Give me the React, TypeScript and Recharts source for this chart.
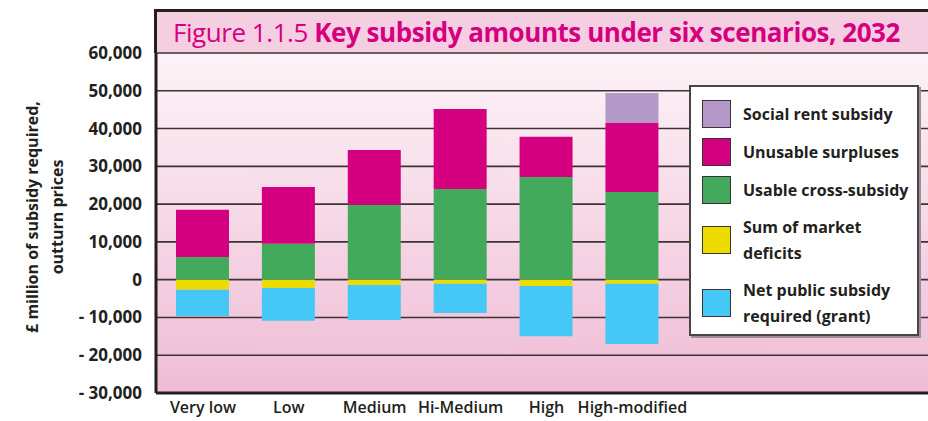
import { BarChart, Bar, XAxis, YAxis, CartesianGrid, Legend } from "recharts";

// scenarios, plus three empty slots on the right where the key sits
const scenarios = ["Very low", "Low", "Medium", "Hi-Medium", "High", "High-modified"];
const spacers = [" ", "  ", "   "];

// £ million, outturn prices
const marketDeficits = [-2700, -2200, -1400, -1100, -1700, -1100];
const publicGrant = [-6900, -8700, -9300, -7700, -13300, -15900];
const usableCross = [6000, 9500, 19800, 24000, 27200, 23200];
const unusableSurplus = [12500, 15000, 14500, 21200, 10600, 18300];
const socialRent = [0, 0, 0, 0, 0, 7900];

const yTicks = [-30000, -20000, -10000, 0, 10000, 20000, 30000, 40000, 50000, 60000];

const series = [
  { key: "usable", name: "Usable cross-subsidy", color: "#43a95d", values: usableCross },
  { key: "unusable", name: "Unusable surpluses", color: "#d5007f", values: unusableSurplus },
  { key: "social", name: "Social rent subsidy", color: "#b398c8", values: socialRent },
  { key: "deficit", name: "Sum of market deficits", color: "#ecdc00", values: marketDeficits },
  { key: "grant", name: "Net public subsidy required (grant)", color: "#45c8f5", values: publicGrant },
];

const legendOrder = ["social", "unusable", "usable", "deficit", "grant"];
const legendLines: Record<string, string[]> = {
  social: ["Social rent subsidy"],
  unusable: ["Unusable surpluses"],
  usable: ["Usable cross-subsidy"],
  deficit: ["Sum of market", "deficits"],
  grant: ["Net public subsidy", "required (grant)"],
};

const data = [
  ...scenarios.map((name, i) => {
    const row: Record<string, any> = { name };
    series.forEach((s) => (row[s.key] = s.values[i]));
    return row;
  }),
  ...spacers.map((name) => ({ name })),
];

const FONT = "'Open Sans', 'Noto Sans', sans-serif";
const INK = "#231f20";

const fmt = (v: number) => {
  if (v === 0) return "0";
  const s = Math.abs(v).toLocaleString("en-GB");
  return v < 0 ? "- " + s : s;
};

function KeyBox() {
  const rowTops = [14, 52, 90, 127, 190];
  return (
    <div
      style={{
        position: "relative",
        width: 226,
        height: 247,
        background: "#fff",
        border: "2px solid #4a4446",
        boxShadow: "2px 2px 0 #9a9095",
        fontFamily: FONT,
        fontWeight: 700,
        fontSize: 16,
        color: INK,
      }}
    >
      {legendOrder.map((k, i) => {
        const s = series.find((x) => x.key === k)!;
        const lines = legendLines[k];
        const h = lines.length * 26;
        return (
          <div key={k} style={{ position: "absolute", left: 11, top: rowTops[i], height: h, display: "flex", alignItems: "center" }}>
            <div style={{ width: 29, height: 28, background: s.color, border: "1px solid #3a3436", boxSizing: "border-box" }} />
            <div style={{ marginLeft: 12, lineHeight: "26px", whiteSpace: "nowrap" }}>
              {lines.map((l) => (
                <div key={l}>{l}</div>
              ))}
            </div>
          </div>
        );
      })}
    </div>
  );
}

const AxisTitle = (props: any) => {
  const vb = props.viewBox || { x: 0, y: 53, width: 156, height: 340 };
  const cy = vb.y + vb.height / 2 - 6;
  return (
    <g fontFamily={FONT} fontWeight={700} fontSize={16} fill={INK} textAnchor="middle">
      <text transform={`translate(${vb.x + 38}, ${cy}) rotate(-90)`}>£ million of subsidy required,</text>
      <text transform={`translate(${vb.x + 63}, ${cy}) rotate(-90)`}>outturn prices</text>
    </g>
  );
};

export default function App() {
  return (
    <div style={{ position: "absolute", left: 0, top: 0, width: 928, height: 421, background: "#fff", overflow: "hidden" }}>
      <div
        style={{
          position: "absolute",
          left: 154,
          top: 9,
          width: 780,
          height: 44,
          background: "#f6cee1",
          borderTop: "3px solid " + INK,
          borderLeft: "3px solid " + INK,
          boxSizing: "border-box",
        }}
      />
      <div
        style={{
          position: "absolute",
          left: 173,
          top: 12,
          fontFamily: FONT,
          fontSize: 26,
          letterSpacing: -0.45,
          color: "#d5007f",
          whiteSpace: "nowrap",
          lineHeight: "40px",
        }}
      >
        Figure 1.1.5 <b>Key subsidy amounts under six scenarios, 2032</b>
      </div>
      <div style={{ position: "absolute", left: 0, top: 0 }}>
        <BarChart
          width={928}
          height={421}
          data={data}
          stackOffset="sign"
          margin={{ top: 53, right: -5, bottom: 0, left: 0 }}
        >
          <defs>
            <linearGradient id="bgFade" x1="0" y1="0" x2="0" y2="1">
              <stop offset="0%" stopColor="#fdf3f7" />
              <stop offset="100%" stopColor="#efbcd5" />
            </linearGradient>
          </defs>
          <CartesianGrid vertical={false} fill="url(#bgFade)" stroke="#3d3337" strokeWidth={1.6} />
          <XAxis
            dataKey="name"
            height={28}
            padding={{ left: 4, right: 0 }}
            axisLine={{ stroke: INK, strokeWidth: 3 }}
            tickLine={false}
            tickSize={6}
            tickMargin={3}
            interval={0}
            tick={{ fontFamily: FONT, fontSize: 16, fontWeight: 600, fill: INK }}
          />
          <YAxis
            width={156}
            domain={[-30000, 60000]}
            ticks={yTicks}
            interval={0}
            tickFormatter={fmt}
            axisLine={{ stroke: INK, strokeWidth: 3 }}
            tickLine={false}
            tickSize={6}
            tickMargin={8}
            tick={{ fontFamily: FONT, fontSize: 17, fontWeight: 700, fill: INK }}
            label={{ content: AxisTitle }}
          />
          <Legend
            layout="vertical"
            align="center"
            verticalAlign="middle"
            content={() => <KeyBox />}
            wrapperStyle={{ position: "absolute", left: 689, top: 85, width: 230, height: 251 }}
          />
          {series.map((s) => (
            <Bar key={s.key} dataKey={s.key} name={s.name} stackId="a" fill={s.color} barSize={53} isAnimationActive={false} />
          ))}
        </BarChart>
      </div>
    </div>
  );
}
